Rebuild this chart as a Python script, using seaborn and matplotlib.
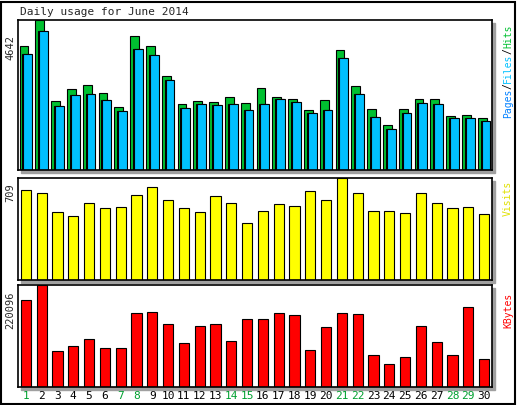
import numpy as np
import pandas as pd
import seaborn as sns
import matplotlib
matplotlib.use('Agg')
import matplotlib.pyplot as plt
from matplotlib.patches import Rectangle

days = list(range(1, 31))
weekend = [1, 7, 8, 14, 15, 21, 22, 28, 29]
hits = [3848, 4642, 2130, 2512, 2639, 2385, 1940, 4134, 3848, 2894,
        2035, 2130, 2099, 2258, 2067, 2544, 2258, 2194, 1844, 2162,
        3720, 2608, 1876, 1399, 1876, 2194, 2194, 1685, 1717, 1622]
files = [3593, 4293, 1972, 2321, 2353, 2162, 1813, 3752, 3562, 2798,
         1908, 2035, 2003, 2035, 1844, 2035, 2194, 2099, 1749, 1844,
         3466, 2353, 1654, 1272, 1749, 2067, 2035, 1622, 1622, 1526]
pages = [3593, 4293, 1972, 2321, 2353, 2162, 1813, 3752, 3562, 2798,
         1908, 2035, 2003, 2035, 1844, 2035, 2194, 2099, 1749, 1844,
         3466, 2353, 1654, 1272, 1749, 2067, 2035, 1622, 1622, 1526]
visits = [629, 607, 475, 446, 534, 497, 504, 592, 643, 556,
          497, 475, 585, 534, 395, 483, 526, 512, 621, 556,
          709, 607, 483, 483, 468, 607, 534, 497, 504, 461]
kbytes = [188000, 220096, 78000, 89400, 103200, 84800, 84800, 160500, 162800, 135300,
          94000, 130700, 135300, 98600, 146700, 146700, 160500, 155900, 80300, 128400,
          160500, 158200, 68800, 50400, 64200, 130700, 96300, 68800, 172000, 59600]

sns.set_style('white')
plt.rcParams['font.family'] = ['DejaVu Sans Mono']
plt.rcParams['font.size'] = 7.5

W, H = 517, 405
fig = plt.figure(figsize=(W / 100, H / 100), dpi=100)
fig.patches.append(Rectangle((1 / W, 1 / H), 1 - 3 / W, 1 - 3 / H, transform=fig.transFigure,
                             fill=False, edgecolor='black', lw=1.5))
fig.text(20 / W, 1 - 12 / H, 'Daily usage for June 2014', fontsize=8, va='center')


def panel(top, bottom):
    # pixel box -> axes, with a grey shadow behind it
    l, r = 18, 492
    rect = [l / W, 1 - bottom / H, (r - l) / W, (bottom - top) / H]
    shadow = Rectangle((rect[0] + 3 / W, rect[1] - 3 / H), rect[2], rect[3],
                       transform=fig.transFigure, color='#a0a0a0', zorder=-5)
    fig.add_artist(shadow)
    ax = fig.add_axes(rect)
    ax.set_zorder(1)
    ax.set_facecolor('white')
    for s in ax.spines.values():
        s.set_color('black')
        s.set_linewidth(1.2)
    ax.set_xlim(0.5, 30.5)
    ax.set_xticks([])
    ax.set_yticks([])
    return ax


# pages/files/hits
ax1 = panel(20, 170)
x = np.array(days)
ax1.bar(x - 0.12, hits, width=0.55, color='#00c030', edgecolor='black', lw=0.8)
ax1.bar(x + 0.05, pages, width=0.55, color='#0040ff', edgecolor='black', lw=0.8)
ax1.bar(x + 0.12, files, width=0.55, color='#00c0ff', edgecolor='black', lw=0.8)
ax1.set_ylim(0, max(hits) * 1.0)
fig.text(10 / W, 1 - 48 / H, str(max(hits)), rotation=90, ha='center', va='center')
for txt, col, y0 in [('Pages', '#0080ff', 103), ('/', 'black', 86), ('Files', '#00c0ff', 68),
                     ('/', 'black', 51), ('Hits', '#00c030', 36)]:
    fig.text(508 / W, 1 - y0 / H, txt, rotation=90, color=col, ha='center', va='center',
             fontsize=7)

# visits
df = pd.DataFrame({'day': days, 'visits': visits, 'kbytes': kbytes})
ax2 = panel(178, 280)
sns.barplot(data=df, x='day', y='visits', native_scale=True, color='#ffff00',
            saturation=1, edgecolor='black', linewidth=0.8, width=0.65, ax=ax2)
ax2.set_ylim(0, max(visits) * 1.0)
ax2.set_xlim(0.5, 30.5)
ax2.set_xlabel(''); ax2.set_ylabel(''); ax2.set_xticks([]); ax2.set_yticks([])
fig.text(10 / W, 1 - 193 / H, str(max(visits)), rotation=90, ha='center', va='center')
fig.text(508 / W, 1 - 198 / H, 'Visits', rotation=90, color='#e0e000', ha='center',
         va='center', fontsize=7)

# kbytes
ax3 = panel(285, 387)
sns.barplot(data=df, x='day', y='kbytes', native_scale=True, color='#ff0000',
            saturation=1, edgecolor='black', linewidth=0.8, width=0.65, ax=ax3)
ax3.set_ylim(0, max(kbytes) * 1.0)
ax3.set_xlim(0.5, 30.5)
ax3.set_xlabel(''); ax3.set_ylabel('')
ax3.set_xticks(days)
ax3.set_xticklabels([str(d) for d in days], fontsize=8)
ax3.tick_params(axis='x', length=0, pad=3)
for lab, d in zip(ax3.get_xticklabels(), days):
    lab.set_color('#00a030' if d in weekend else 'black')
ax3.set_yticks([])
fig.text(10 / W, 1 - 310 / H, str(max(kbytes)), rotation=90, ha='center', va='center')
fig.text(508 / W, 1 - 310 / H, 'KBytes', rotation=90, color='#ff0000', ha='center',
         va='center', fontsize=7)

fig.savefig('out.png', dpi=100)
